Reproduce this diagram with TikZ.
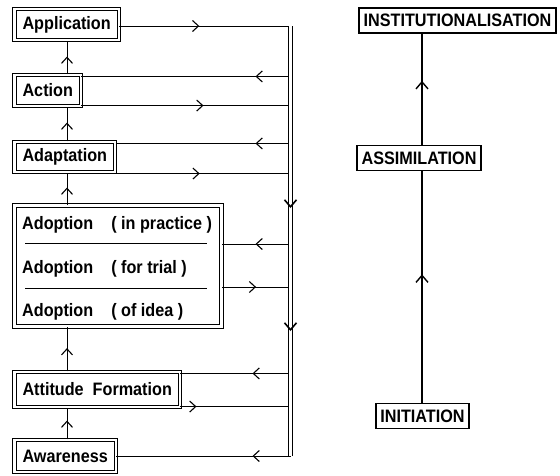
\documentclass[tikz,border=0pt]{standalone}
\usepackage{fontspec}
\newfontfamily\diagfont[FakeStretch=0.9]{Liberation Sans}
\usetikzlibrary{arrows.meta, decorations.markings, positioning}

\begin{document}
\begin{tikzpicture}[
  x=1pt, y=-1pt,
  stage/.style={draw, double, double distance=2.2pt, line width=1.1pt,
    inner xsep=8pt, inner ysep=0pt, anchor=west,
    font=\diagfont\bfseries\fontsize{18}{21}\selectfont},
  phase/.style={draw, line width=1.6pt, inner xsep=4.5pt, inner ysep=0pt,
    minimum height=25pt, font=\diagfont\bfseries\fontsize{18}{21}\selectfont},
  subline/.style={inner sep=0pt, anchor=base west,
    font=\diagfont\bfseries\fontsize{18}{21}\selectfont},
  flow/.style={line width=1pt},
  barb/.style={postaction={decorate}, decoration={markings,
    mark=at position #1 with {\arrow{Straight Barb[length=6pt, width=11pt, line width=1.1pt]}}}},
  spinebarb/.style={postaction={decorate}, decoration={markings,
    mark=at position #1 with {\arrow{Straight Barb[length=7pt, width=12pt, line width=1.4pt]}}}}
]
\useasboundingbox (0,0) rectangle (560,475);

% left column
\node[stage, minimum height=31pt] (Application) at (14,24.5) {Application};
\node[stage, minimum height=31pt] (Action) at (14,90.5) {Action};
\node[stage, minimum height=30pt] (Adaptation) at (14,157) {Adaptation};
\node[stage, anchor=north west, minimum width=207pt, minimum height=121pt,
  inner sep=0pt] (Adoption) at (14,205) {};
\node[subline] (AdPractice) at (22,229.5) {Adoption\hspace{18pt}( in practice )};
\node[subline] (AdTrial) at (22,273.5) {Adoption\hspace{18pt}( for trial )};
\node[subline] (AdIdea) at (22,316.5) {Adoption\hspace{18pt}( of idea )};
\draw[line width=0.9pt] (25,243) -- (207,243);
\draw[line width=0.9pt] (25,288) -- (207,288);
\node[stage, minimum height=35pt] (Attitude) at (14,389.5) {Attitude\hspace{9pt}Formation};
\node[stage, minimum height=32pt] (Awareness) at (14,456) {Awareness};

\coordinate (spine) at (67,0);
\draw[flow, barb=-16pt] (Action.north -| spine) -- (Application.south -| spine);
\draw[flow, barb=-16pt] (Adaptation.north -| spine) -- (Action.south -| spine);
\draw[flow, barb=-15pt] (Adoption.north -| spine) -- (Adaptation.south -| spine);
\draw[flow, barb=-21pt] (Attitude.north -| spine) -- (Adoption.south -| spine);
\draw[flow, barb=-13pt] (Awareness.north -| spine) -- (Attitude.south -| spine);

% links to the feedback bus
\coordinate (bus) at (290.5,0);
\coordinate (app out) at ([yshift=-1.5pt]Application.east);
\coordinate (act in) at ([yshift=-2pt]Action.north east);
\coordinate (act out) at ([yshift=1pt]Action.south east);
\coordinate (ada in) at ([yshift=-2pt]Adaptation.north east);
\coordinate (ada out) at ([yshift=-1pt]Adaptation.south east);
\coordinate (adp in) at ([yshift=-39pt]Adoption.north east);
\coordinate (adp out) at ([yshift=-82pt]Adoption.north east);
\coordinate (att in) at ([yshift=-2pt]Attitude.north east);
\coordinate (att out) at ([yshift=1pt]Attitude.south east);
\coordinate (aw in) at (Awareness.east);

\draw[flow, barb=80pt] (app out) -- (app out -| bus);
\draw[flow, barb=35pt] (act in -| bus) -- (act in);
\draw[flow, barb=122pt] (act out) -- (act out -| bus);
\draw[flow, barb=35pt] (ada in -| bus) -- (ada in);
\draw[flow, barb=84pt] (ada out) -- (ada out -| bus);
\draw[flow, barb=35pt] (adp in -| bus) -- (adp in);
\draw[flow, barb=34pt] (adp out) -- (adp out -| bus);
\draw[flow, barb=38pt] (att in -| bus) -- (att in);
\draw[flow, barb=16pt] (att out) -- (att out -| bus);
\draw[flow, barb=38pt] (aw in -| bus) -- (aw in);

\draw[double, double distance=2.8pt, line width=1.1pt] (app out -| bus) -- (aw in -| bus);
\path[decorate, decoration={markings,
  mark=at position 182pt with {\arrow{Straight Barb[length=7pt, width=12pt, line width=1.6pt]}},
  mark=at position 305pt with {\arrow{Straight Barb[length=7pt, width=12pt, line width=1.6pt]}}}]
  (app out -| bus) -- (aw in -| bus);

% right column
\node[phase] (Inst) at (457.5,20.5) {INSTITUTIONALISATION};
\node[phase] (Assim) at (419,158) {ASSIMILATION};
\node[phase] (Init) at (422.5,416) {INITIATION};

\coordinate (axis) at (422,0);
\draw[line width=2pt, spinebarb=-103pt] (Init.north -| axis) -- (Assim.south -| axis);
\draw[line width=2pt, spinebarb=-47pt] (Assim.north -| axis) -- (Inst.south -| axis);
\end{tikzpicture}
\end{document}
